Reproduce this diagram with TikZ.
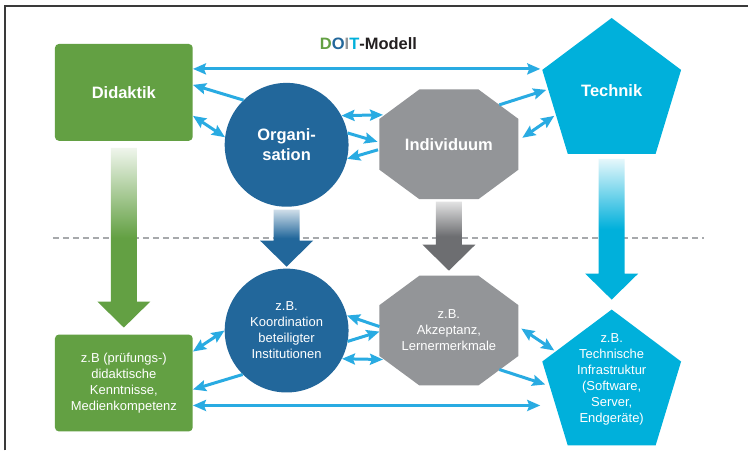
\documentclass[tikz,border=0pt]{standalone}
\usepackage{fontspec}
\setmainfont{Liberation Sans}
\usetikzlibrary{arrows.meta,calc}

\definecolor{didgreen}{HTML}{63A043}
\definecolor{orgblue}{HTML}{22679B}
\definecolor{indgray}{HTML}{939598}
\definecolor{flowgray}{HTML}{6D6E71}
\definecolor{techcyan}{HTML}{00B0DB}
\definecolor{linkblue}{HTML}{29ABE2}
\definecolor{dashgray}{HTML}{A7A9AC}
\definecolor{framegray}{HTML}{3A3A3A}
\definecolor{titleblack}{HTML}{231F20}

% broad arrow from one level to the next
\newcommand{\bigarrow}[3]{%
  \shade[#3] let \p1=(#1), \p2=(#2) in
    (\x1-13pt,\y1) -- (\x1-13pt,\y2+26pt) -- (\x1-26.5pt,\y2+26pt) -- (\x1,\y2)
    -- (\x1+26.5pt,\y2+26pt) -- (\x1+13pt,\y2+26pt) -- (\x1+13pt,\y1) -- cycle;}

\begin{document}
\begin{tikzpicture}[x=1pt,y=-1pt,
    headline/.style ={font=\bfseries\fontsize{16.5}{20}\selectfont, text=white, align=center},
    example/.style ={font=\fontsize{13}{16}\selectfont, text=white, align=center},
    fieldbox/.style ={rectangle, rounded corners=4pt, fill=didgreen, minimum width=138pt, minimum height=97pt, inner sep=0pt},
    fieldcircle/.style ={circle, fill=orgblue, minimum size=124pt, inner sep=0pt},
    fieldshape/.style ={rectangle, minimum width=139pt, minimum height=110pt, inner sep=0pt},
    link/.style ={draw=linkblue, line width=3pt, -{Stealth[length=13pt,width=11pt,inset=2pt]}},
    twolink/.style ={link, {Stealth[length=13pt,width=11pt,inset=2pt]}-{Stealth[length=13pt,width=11pt,inset=2pt]}},
    greenflow/.style ={top color=didgreen!10, bottom color=didgreen, middle color=didgreen},
    blueflow/.style ={top color=orgblue!22, bottom color=orgblue, middle color=orgblue},
    grayflow/.style ={top color=flowgray!20, bottom color=flowgray, middle color=flowgray},
    cyanflow/.style ={top color=techcyan!10, bottom color=techcyan, middle color=techcyan},
    pics/octagonshape/.style ={code={\fill[indgray] (-29.5,-55) -- (29.5,-55) -- (69.5,-25.5) -- (69.5,25.5)
        -- (29.5,55) -- (-29.5,55) -- (-69.5,25.5) -- (-69.5,-25.5) -- cycle;}},
    pics/pentagonshape/.style ={code={\fill[techcyan] (0,-68) -- (69.5,-16) -- (44,68) -- (-44,68) -- (-69.5,-16) -- cycle;}}]

   \fill[white] (0,0) rectangle (749,451);
   \draw[framegray, line width=2pt] (5,451) -- (5,6) -- (749,6);
   \draw[dashgray, line width=2pt, dash pattern=on 6pt off 4pt] (53,238) -- (705,238);

   \node[font=\bfseries\fontsize{16.5}{20}\selectfont, text=titleblack] (title) at (369,44)
     {\textcolor{didgreen}{D}\textcolor{orgblue}{O}\textcolor{indgray}{I}\textcolor{techcyan}{T}-Modell};

   % upper level
   \node[fieldbox,headline] (did) at (124,92.5) {Didaktik};
   \node[fieldcircle,headline] (org) at (287,145) {Organi-\\sation};
   \pic at (449.5,144.5) {octagonshape};
   \node[fieldshape,headline] (ind) at (449.5,144.5) {Individuum};
   \pic at (612.5,86) {pentagonshape};
   \node[fieldshape,headline] (tech) at (612.5,91) {Technik};

   % lower level
   \node[fieldbox,example] (didb) at (124,383.5) {z.B (prüfungs-)\\didaktische\\Kenntnisse,\\Medienkompetenz};
   \node[fieldcircle,example] (orgb) at (287,331) {z.B.\\Koordination\\beteiligter\\Institutionen};
   \pic at (449.5,331) {octagonshape};
   \node[fieldshape,example] (indb) at (449.5,331) {z.B.\\Akzeptanz,\\Lernermerkmale};
   \pic at (612.5,378) {pentagonshape};
   \node[fieldshape,example] (techb) at (612.5,380) {z.B.\\Technische\\Infrastruktur\\(Software,\\Server,\\Endgeräte)};

   \bigarrow{$(did.center)+(0,55.5)$}{$(didb.center)+(0,-55.5)$}{greenflow}
   \bigarrow{$(org.center)+(0,65)$}{$(orgb.center)+(0,-64)$}{blueflow}
   \bigarrow{$(ind.center)+(0,57.5)$}{$(indb.center)+(0,-60)$}{grayflow}
   \bigarrow{$(tech.center)+(0,68)$}{$(techb.center)+(0,-80)$}{cyanflow}

   \draw[twolink] ($(did.east)+(0,-23.5)$) -- ($(tech.center)+(-71.5,-22)$);
   \draw[link] (org.134) -- ($(did.east)+(0,-7.5)$);
   \draw[twolink] ($(did.east)+(0,23.5)$) -- (org.173);
   \draw[twolink] (org.28) -- ($(ind.center)+(-66,-29.5)$);
   \draw[link] (org.11) -- ($(ind.center)+(-71.5,-2.5)$);
   \draw[link] ($(ind.center)+(-71,5.5)$) -- (org.-13);
   \draw[link] ($(ind.center)+(50.5,-39.5)$) -- ($(tech.center)+(-65.5,-1)$);
   \draw[twolink] ($(ind.center)+(73.5,-6.5)$) -- ($(tech.center)+(-57.5,25)$);

   \draw[twolink] ($(didb.east)+(0,-31.5)$) -- (orgb.180);
   \draw[link] (orgb.225) -- ($(didb.east)+(0,6.5)$);
   \draw[twolink] ($(didb.east)+(0,22.5)$) -- ($(techb.center)+(-71.5,26)$);
   \draw[link] ($(indb.center)+(-69.5,-4)$) -- (orgb.14);
   \draw[link] (orgb.-10) -- ($(indb.center)+(-69.5,1)$);
   \draw[twolink] (orgb.-27) -- ($(indb.center)+(-66,29)$);
   \draw[twolink] ($(indb.center)+(72.5,-2)$) -- ($(techb.center)+(-57.5,-29)$);
   \draw[link] ($(indb.center)+(50.5,39)$) -- ($(techb.center)+(-66.5,5)$);
\end{tikzpicture}
\end{document}
